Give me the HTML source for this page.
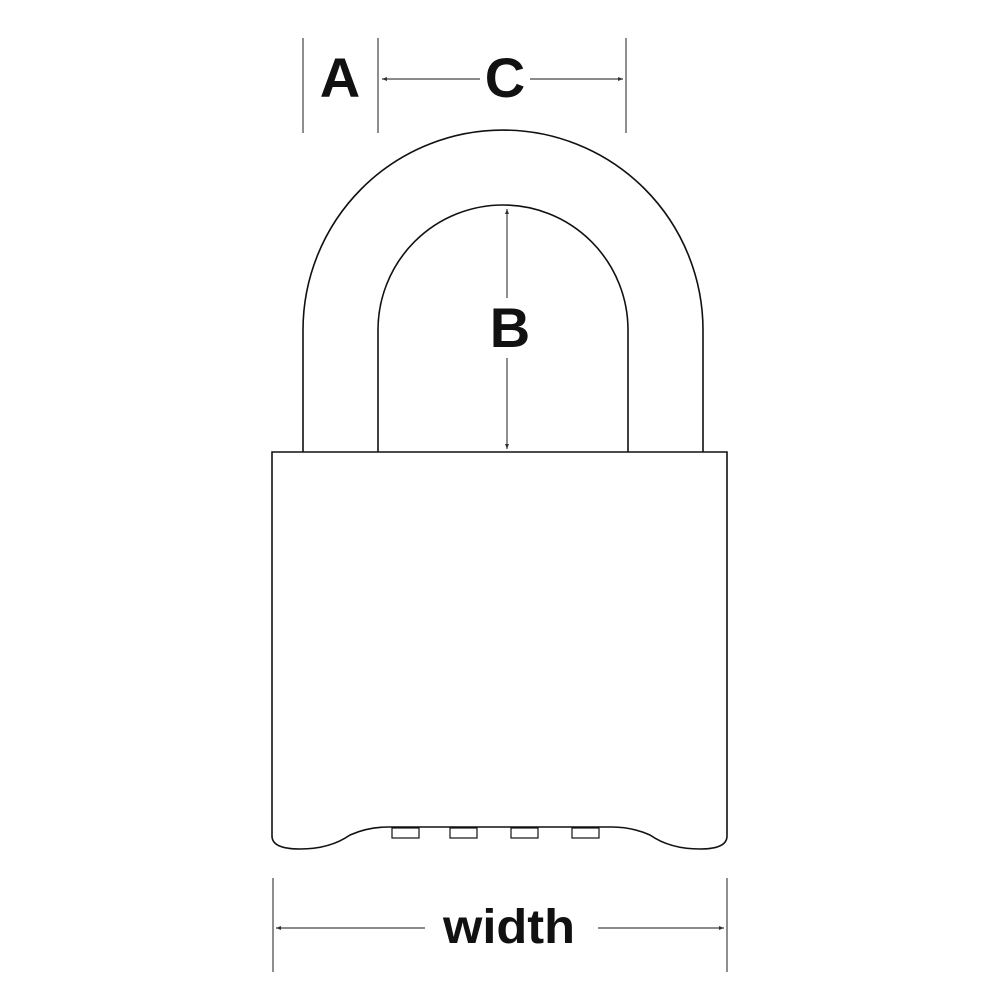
<!DOCTYPE html>
<html><head><style>body{margin:0;background:#fff}svg{display:block}</style></head><body>
<svg width="1000" height="1000" viewBox="0 0 1000 1000" xmlns="http://www.w3.org/2000/svg">
<defs><marker id="ar" markerWidth="6" markerHeight="6" refX="5" refY="3" orient="auto" markerUnits="userSpaceOnUse"><path d="M0,1 L5,3 L0,5 z" fill="#333"/></marker></defs>
<g fill="none" stroke="#111" stroke-width="1.6">
<path d="M303,452 V330 A200,200 0 0 1 703,330 V452"/>
<path d="M378,452 V330 A125,125 0 0 1 628,330 V452"/>
<path d="M272,452 H727 V836 Q727,849 700,849 Q670,849 650,835 Q632,827 612,827 H388 Q368,827 350,835 Q330,849 300,849 Q272,849 272,836 Z"/>
<rect x="392" y="828" width="27" height="10" stroke-width="1.2"/>
<rect x="450" y="828" width="27" height="10" stroke-width="1.2"/>
<rect x="511" y="828" width="27" height="10" stroke-width="1.2"/>
<rect x="572" y="828" width="27" height="10" stroke-width="1.2"/>
</g>
<g stroke="#444" stroke-width="1.2">
<line x1="303" y1="38" x2="303" y2="133"/>
<line x1="378" y1="38" x2="378" y2="133"/>
<line x1="626" y1="38" x2="626" y2="133"/>
<line x1="273" y1="878" x2="273" y2="972"/>
<line x1="727" y1="878" x2="727" y2="972"/>
<line x1="480" y1="79" x2="382" y2="79" marker-end="url(#ar)"/>
<line x1="530" y1="79" x2="623" y2="79" marker-end="url(#ar)"/>
<line x1="507" y1="298" x2="507" y2="209" marker-end="url(#ar)"/>
<line x1="507" y1="358" x2="507" y2="449" marker-end="url(#ar)"/>
<line x1="425" y1="928" x2="276" y2="928" marker-end="url(#ar)"/>
<line x1="598" y1="928" x2="724" y2="928" marker-end="url(#ar)"/>
</g>
<g font-family="Liberation Sans, sans-serif" font-weight="bold" fill="#111" text-anchor="middle">
<text x="340" y="97" font-size="56">A</text>
<text x="505" y="97" font-size="56">C</text>
<text x="510" y="347" font-size="56">B</text>
<text x="509" y="943" font-size="48" textLength="132" lengthAdjust="spacingAndGlyphs">width</text>
</g>
</svg>
</body></html>
